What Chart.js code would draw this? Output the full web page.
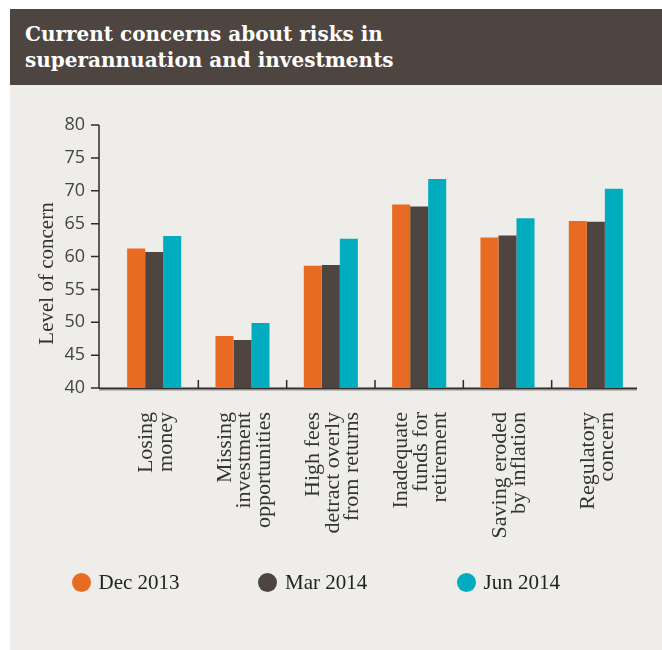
<!DOCTYPE html>
<html lang="en">
<head>
    <meta charset="UTF-8">
    <title>Current concerns about risks in superannuation and investments</title>
    <script src="https://cdn.jsdelivr.net/npm/chart.js"></script>
    <style>
        body {
            margin: 0;
            width: 662px;
            height: 650px;
            background: #ffffff;
            position: relative;
            overflow: hidden;
        }

        .panel {
            position: absolute;
            left: 10px;
            top: 9px;
            width: 652px;
            height: 641px;
            background: #eeede9;
        }

        .header {
            position: absolute;
            left: 10px;
            top: 9px;
            width: 652px;
            height: 76px;
            background: #4e4541;
        }

        .title {
            position: absolute;
            left: 25px;
            top: 21px;
            color: #ffffff;
            font-family: 'DejaVu Serif', serif;
            font-weight: bold;
            font-size: 20px;
            line-height: 26px;
            margin: 0;
        }

        #grafico {
            position: absolute;
            left: 0;
            top: 0;
        }

        .legenda {
            position: absolute;
            top: 570px;
            font-family: 'Liberation Serif', serif;
            font-size: 21px;
            line-height: 24px;
            color: #222;
            white-space: nowrap;
        }

        .legenda span {
            position: absolute;
            width: 19px;
            height: 19px;
            border-radius: 50%;
        }
    </style>
</head>
<body>
    <div class="panel"></div>
    <div class="header"></div>
    <h1 class="title">Current concerns about risks in<br>superannuation and investments</h1>
    <canvas id="grafico" width="662" height="650"></canvas>
    <div id="legenda"></div>

    <script>
        const categorias = [
            ["Losing", "money"],
            ["Missing", "investment", "opportunities"],
            ["High fees", "detract overly", "from returns"],
            ["Inadequate", "funds for", "retirement"],
            ["Saving eroded", "by inflation"],
            ["Regulatory", "concern"]
        ];
        const series = ["Dec 2013", "Mar 2014", "Jun 2014"];
        const dez2013 = [61.2, 47.9, 58.6, 67.9, 62.9, 65.4];
        const mar2014 = [60.7, 47.3, 58.7, 67.6, 63.2, 65.3];
        const jun2014 = [63.1, 49.9, 62.7, 71.8, 65.8, 70.3];
        const cores = ["#e96a22", "#4e4541", "#00acbd"];
        const yMin = 40;
        const yMax = 80;
        const yPasso = 5;
        const tituloY = "Level of concern";

        // eixos desenhados a mao: linha do y com ticks para a esquerda,
        // linha do x com pequenos ticks para cima entre as categorias,
        // e os rotulos das categorias (varias linhas, centradas na barra)
        const eixos = {
            id: 'eixos',
            beforeDatasetsDraw(chart) {
                const { ctx, chartArea, scales: { x, y } } = chart;
                const x0 = chartArea.left - 11;
                const topo = y.getPixelForValue(yMax);
                const base = y.getPixelForValue(yMin);
                ctx.save();
                ctx.strokeStyle = '#2f2b29';
                ctx.lineWidth = 1.5;
                ctx.beginPath();
                ctx.moveTo(x0, topo);
                ctx.lineTo(x0, base);
                y.ticks.forEach(t => {
                    const py = y.getPixelForValue(t.value);
                    ctx.moveTo(x0 - 8, py);
                    ctx.lineTo(x0, py);
                });
                for (let i = 0; i < categorias.length - 1; i++) {
                    const px = (x.getPixelForValue(i) + x.getPixelForValue(i + 1)) / 2;
                    ctx.moveTo(px, base - 8);
                    ctx.lineTo(px, base);
                }
                ctx.stroke();

                ctx.strokeStyle = '#bdbcb8';
                ctx.lineWidth = 1;
                ctx.beginPath();
                ctx.moveTo(x0, base + 2.5);
                ctx.lineTo(chartArea.right - 3, base + 2.5);
                ctx.stroke();

                ctx.strokeStyle = '#2f2b29';
                ctx.lineWidth = 2;
                ctx.beginPath();
                ctx.moveTo(x0, base + 0.5);
                ctx.lineTo(chartArea.right - 3, base + 0.5);
                ctx.stroke();

                ctx.fillStyle = '#333';
                ctx.textBaseline = 'middle';

                // rotulos do eixo x
                ctx.font = '22px "Liberation Serif"';
                ctx.textAlign = 'right';
                const lh = 19.5;
                categorias.forEach((linhas, i) => {
                    const cx = x.getPixelForValue(i) + 2;
                    linhas.forEach((txt, j) => {
                        ctx.save();
                        ctx.translate(cx + (j - (linhas.length - 1) / 2) * lh, base + 24);
                        ctx.rotate(-Math.PI / 2);
                        ctx.fillText(txt, 0, 0);
                        ctx.restore();
                    });
                });

                // titulo do eixo y
                ctx.translate(47, (topo + base) / 2 + 17);
                ctx.rotate(-Math.PI / 2);
                ctx.font = '21px "Liberation Serif"';
                ctx.textAlign = 'center';
                ctx.fillText(tituloY, 0, 0);
                ctx.restore();
            }
        };

        const valores = [dez2013, mar2014, jun2014];
        const grafico = new Chart(document.getElementById('grafico'), {
            type: 'bar',
            data: {
                labels: categorias,
                datasets: series.map((nome, i) => ({
                    label: nome,
                    data: valores[i],
                    backgroundColor: cores[i],
                    borderWidth: 0,
                    barPercentage: 1,
                    categoryPercentage: 0.612
                }))
            },
            options: {
                responsive: false,
                animation: false,
                layout: { padding: { top: 125, right: 22, bottom: 0, left: 0 } },
                plugins: {
                    legend: { display: false },
                    tooltip: { enabled: false }
                },
                scales: {
                    x: {
                        grid: { display: false },
                        border: { display: false },
                        ticks: { display: false },
                        afterFit: s => { s.height = 262; }
                    },
                    y: {
                        min: yMin,
                        max: yMax,
                        grid: { display: false },
                        border: { display: false },
                        ticks: {
                            stepSize: yPasso,
                            padding: 17,
                            color: '#444',
                            font: { family: 'Open Sans', size: 18 }
                        },
                        afterFit: s => { s.width = 110; }
                    }
                }
            },
            plugins: [eixos]
        });

        // legenda em html com bolinhas
        const posLegenda = [71.5, 258, 456.5];
        const legenda = document.getElementById('legenda');
        series.forEach((nome, i) => {
            const item = document.createElement('div');
            item.className = 'legenda';
            item.style.left = posLegenda[i] + 'px';
            item.innerHTML = `<span style="left:0;top:2.5px;background:${cores[i]}"></span><b style="font-weight:normal;margin-left:27px">${nome}</b>`;
            legenda.appendChild(item);
        });
    </script>
</body>
</html>
